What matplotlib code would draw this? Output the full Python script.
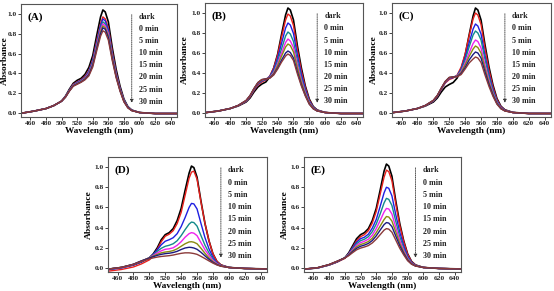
import matplotlib
matplotlib.use("Agg")
import matplotlib.pyplot as plt

plt.rcParams['font.family'] = ['Liberation Serif', 'DejaVu Serif']
plt.rcParams['font.weight'] = 'bold'

wavelength = [450, 465, 480, 490, 500, 505, 510, 515, 520, 525, 530, 535, 540, 545,
              550, 553, 556, 560, 565, 570, 575, 580, 585, 590, 600, 620, 650]

series_labels = ["dark", "0 min", "5 min", "10 min", "15 min", "20 min", "25 min", "30 min"]
colors = ["#000000", "#e8201c", "#1f1fe0", "#138a8a", "#ee22ee", "#8a8a10", "#1a1a80", "#8b3a3a"]

panel_A = [
    [0.00,0.02,0.045,0.075,0.12,0.17,0.24,0.30,0.33,0.35,0.39,0.46,0.58,0.78,0.97,1.04,1.02,0.92,0.66,0.44,0.27,0.14,0.065,0.03,0.005,-0.005,-0.005],
    [0.00,0.02,0.045,0.075,0.12,0.165,0.23,0.29,0.315,0.335,0.37,0.43,0.54,0.73,0.90,0.97,0.95,0.86,0.62,0.41,0.25,0.13,0.06,0.028,0.005,-0.005,-0.005],
    [0.00,0.02,0.045,0.075,0.12,0.165,0.23,0.285,0.31,0.33,0.36,0.42,0.53,0.71,0.885,0.95,0.93,0.84,0.60,0.40,0.245,0.13,0.06,0.028,0.005,-0.005,-0.005],
    [0.00,0.02,0.045,0.075,0.12,0.163,0.228,0.283,0.305,0.325,0.355,0.41,0.515,0.69,0.86,0.92,0.90,0.815,0.585,0.39,0.24,0.125,0.058,0.027,0.005,-0.005,-0.005],
    [0.00,0.02,0.045,0.075,0.12,0.162,0.226,0.28,0.30,0.32,0.35,0.40,0.50,0.675,0.84,0.90,0.88,0.80,0.57,0.38,0.235,0.12,0.056,0.026,0.005,-0.005,-0.005],
    [0.00,0.02,0.045,0.075,0.12,0.161,0.224,0.277,0.297,0.317,0.345,0.39,0.49,0.66,0.82,0.88,0.86,0.78,0.56,0.372,0.23,0.118,0.055,0.025,0.005,-0.005,-0.005],
    [0.00,0.02,0.045,0.075,0.12,0.16,0.222,0.274,0.294,0.313,0.34,0.385,0.48,0.645,0.80,0.86,0.845,0.76,0.545,0.365,0.225,0.115,0.054,0.025,0.005,-0.005,-0.005],
    [0.00,0.02,0.045,0.075,0.12,0.16,0.22,0.27,0.29,0.31,0.335,0.375,0.465,0.625,0.775,0.83,0.815,0.735,0.53,0.355,0.22,0.112,0.052,0.024,0.005,-0.005,-0.005],
]

panel_B = [
    [0.005,0.02,0.045,0.07,0.11,0.15,0.21,0.26,0.29,0.31,0.36,0.45,0.59,0.79,0.98,1.05,1.03,0.93,0.67,0.45,0.27,0.14,0.065,0.03,0.005,-0.005,-0.005],
    [0.005,0.02,0.045,0.072,0.115,0.16,0.225,0.28,0.31,0.33,0.37,0.45,0.58,0.76,0.93,0.99,0.97,0.875,0.63,0.42,0.255,0.13,0.06,0.028,0.005,-0.005,-0.005],
    [0.005,0.02,0.045,0.073,0.118,0.165,0.232,0.29,0.32,0.335,0.365,0.435,0.55,0.70,0.85,0.90,0.88,0.795,0.575,0.385,0.235,0.12,0.056,0.026,0.005,-0.005,-0.005],
    [0.005,0.02,0.045,0.074,0.12,0.168,0.236,0.295,0.325,0.338,0.36,0.42,0.52,0.645,0.77,0.81,0.79,0.715,0.52,0.35,0.215,0.11,0.052,0.024,0.005,-0.005,-0.005],
    [0.005,0.02,0.045,0.075,0.122,0.17,0.24,0.30,0.33,0.34,0.355,0.405,0.495,0.60,0.705,0.74,0.72,0.655,0.48,0.325,0.20,0.103,0.048,0.022,0.005,-0.005,-0.005],
    [0.005,0.02,0.045,0.075,0.123,0.172,0.242,0.302,0.332,0.34,0.352,0.395,0.475,0.57,0.66,0.69,0.675,0.61,0.45,0.305,0.19,0.098,0.046,0.021,0.005,-0.005,-0.005],
    [0.005,0.02,0.045,0.076,0.125,0.174,0.244,0.304,0.334,0.34,0.35,0.385,0.45,0.53,0.60,0.62,0.605,0.55,0.41,0.28,0.175,0.09,0.043,0.02,0.005,-0.005,-0.005],
    [0.005,0.02,0.045,0.076,0.126,0.175,0.245,0.305,0.335,0.34,0.348,0.38,0.44,0.51,0.57,0.59,0.575,0.525,0.39,0.27,0.17,0.088,0.042,0.02,0.005,-0.005,-0.005],
]

panel_C = [
    [0.005,0.02,0.045,0.07,0.11,0.15,0.21,0.26,0.285,0.305,0.35,0.44,0.58,0.78,0.97,1.05,1.03,0.93,0.68,0.46,0.28,0.145,0.068,0.032,0.006,-0.005,-0.005],
    [0.005,0.02,0.045,0.072,0.118,0.165,0.235,0.30,0.335,0.35,0.38,0.46,0.59,0.77,0.94,1.00,0.98,0.885,0.64,0.43,0.26,0.135,0.063,0.03,0.005,-0.005,-0.005],
    [0.005,0.02,0.045,0.073,0.12,0.168,0.24,0.305,0.345,0.355,0.375,0.44,0.555,0.70,0.84,0.89,0.87,0.79,0.575,0.385,0.235,0.12,0.057,0.027,0.005,-0.005,-0.005],
    [0.005,0.02,0.045,0.074,0.122,0.17,0.243,0.31,0.35,0.36,0.372,0.43,0.53,0.66,0.78,0.82,0.80,0.73,0.535,0.36,0.22,0.113,0.053,0.025,0.005,-0.005,-0.005],
    [0.005,0.02,0.045,0.075,0.124,0.172,0.245,0.312,0.352,0.36,0.37,0.415,0.50,0.60,0.695,0.73,0.715,0.65,0.48,0.325,0.20,0.103,0.049,0.023,0.005,-0.005,-0.005],
    [0.005,0.02,0.045,0.075,0.125,0.174,0.247,0.314,0.354,0.36,0.368,0.405,0.48,0.565,0.64,0.67,0.655,0.60,0.445,0.305,0.19,0.098,0.046,0.022,0.005,-0.005,-0.005],
    [0.005,0.02,0.045,0.076,0.126,0.175,0.248,0.315,0.355,0.36,0.365,0.395,0.455,0.53,0.585,0.61,0.60,0.55,0.41,0.285,0.178,0.093,0.044,0.021,0.005,-0.005,-0.005],
    [0.005,0.02,0.045,0.076,0.127,0.176,0.249,0.316,0.356,0.36,0.362,0.385,0.44,0.50,0.54,0.56,0.55,0.505,0.38,0.265,0.167,0.088,0.042,0.02,0.005,-0.005,-0.005],
]

panel_D = [
    [-0.01,0.005,0.03,0.06,0.10,0.14,0.20,0.28,0.33,0.35,0.39,0.47,0.59,0.77,0.94,1.01,0.995,0.90,0.66,0.44,0.27,0.14,0.065,0.03,0.005,-0.005,-0.01],
    [-0.03,-0.015,0.01,0.04,0.08,0.12,0.185,0.26,0.315,0.335,0.37,0.44,0.55,0.72,0.89,0.95,0.96,0.88,0.65,0.44,0.27,0.14,0.065,0.03,0.005,-0.005,-0.01],
    [-0.015,0.0,0.03,0.06,0.10,0.135,0.18,0.23,0.265,0.28,0.30,0.34,0.41,0.50,0.60,0.64,0.635,0.585,0.44,0.30,0.19,0.105,0.052,0.025,0.005,-0.005,-0.01],
    [-0.01,0.005,0.035,0.065,0.10,0.13,0.165,0.195,0.215,0.225,0.24,0.27,0.32,0.38,0.435,0.455,0.45,0.415,0.32,0.225,0.15,0.088,0.047,0.024,0.005,-0.005,-0.01],
    [-0.01,0.005,0.035,0.068,0.10,0.125,0.15,0.17,0.185,0.19,0.20,0.225,0.26,0.305,0.34,0.35,0.345,0.32,0.25,0.18,0.125,0.075,0.042,0.022,0.005,-0.005,-0.01],
    [-0.01,0.006,0.037,0.07,0.10,0.118,0.135,0.15,0.158,0.163,0.172,0.19,0.215,0.24,0.258,0.26,0.255,0.24,0.195,0.145,0.10,0.063,0.036,0.02,0.005,-0.005,-0.01],
    [-0.01,0.006,0.037,0.07,0.098,0.112,0.125,0.135,0.142,0.146,0.153,0.165,0.183,0.198,0.205,0.203,0.198,0.185,0.155,0.12,0.086,0.055,0.033,0.018,0.005,-0.005,-0.01],
    [-0.01,0.006,0.035,0.065,0.09,0.10,0.108,0.114,0.118,0.122,0.128,0.137,0.145,0.15,0.15,0.147,0.143,0.135,0.115,0.093,0.07,0.048,0.03,0.017,0.005,-0.005,-0.01],
]

panel_E = [
    [-0.01,0.0,0.03,0.06,0.10,0.15,0.22,0.29,0.33,0.35,0.39,0.47,0.59,0.77,0.96,1.03,1.01,0.91,0.66,0.44,0.27,0.14,0.065,0.03,0.005,-0.005,-0.01],
    [-0.01,0.0,0.03,0.058,0.095,0.14,0.205,0.27,0.31,0.33,0.37,0.445,0.56,0.73,0.90,0.97,0.955,0.865,0.63,0.42,0.26,0.135,0.062,0.029,0.005,-0.005,-0.01],
    [-0.01,0.0,0.03,0.06,0.10,0.14,0.20,0.255,0.29,0.305,0.335,0.395,0.48,0.61,0.745,0.80,0.79,0.715,0.525,0.355,0.22,0.115,0.055,0.026,0.005,-0.005,-0.01],
    [-0.01,0.0,0.031,0.062,0.10,0.138,0.19,0.24,0.27,0.285,0.31,0.36,0.435,0.535,0.645,0.69,0.68,0.62,0.46,0.31,0.195,0.103,0.05,0.024,0.005,-0.005,-0.01],
    [-0.01,0.001,0.032,0.064,0.10,0.135,0.18,0.225,0.25,0.265,0.285,0.325,0.39,0.47,0.555,0.59,0.585,0.535,0.40,0.275,0.175,0.093,0.046,0.022,0.005,-0.005,-0.01],
    [-0.01,0.002,0.033,0.065,0.10,0.13,0.17,0.21,0.232,0.245,0.262,0.295,0.35,0.415,0.48,0.51,0.505,0.465,0.355,0.245,0.158,0.085,0.043,0.021,0.005,-0.005,-0.01],
    [-0.01,0.002,0.034,0.066,0.10,0.127,0.162,0.195,0.215,0.227,0.243,0.272,0.318,0.375,0.43,0.45,0.445,0.41,0.315,0.22,0.143,0.078,0.04,0.02,0.005,-0.005,-0.01],
    [-0.01,0.002,0.034,0.066,0.098,0.122,0.152,0.18,0.197,0.208,0.222,0.248,0.285,0.33,0.375,0.39,0.385,0.355,0.275,0.195,0.13,0.072,0.037,0.019,0.005,-0.005,-0.01],
]

panel_names = ["(A)", "(B)", "(C)", "(D)", "(E)"]
x_ticks = [460, 480, 500, 520, 540, 560, 580, 600, 620, 640]
y_ticks = [0.0, 0.2, 0.4, 0.6, 0.8, 1.0]

W, H = 554, 291
fig = plt.figure(figsize=(W / 100, H / 100), dpi=100)
fig.patch.set_facecolor("white")

# axes boxes in pixels: (left, top, right, bottom)
boxes = [(21, 4, 177, 117), (205, 3, 363, 117), (392, 3, 551, 117),
         (108, 157, 267, 272), (304, 157, 461, 272)]
ylabel_x = [-0.08, -0.105, -0.088, -0.094, -0.096]
datasets = [panel_A, panel_B, panel_C, panel_D, panel_E]

for (l, t, r, b), data, name, ylx in zip(boxes, datasets, panel_names, ylabel_x):
    ax = fig.add_axes([l / W, (H - b) / H, (r - l) / W, (b - t) / H])
    for i, (row, c) in enumerate(zip(data, colors)):
        ax.plot(wavelength, row, color=c, lw=1.2 if i == 0 else 1.0)
    ax.set_xlim(448, 648)
    ax.set_ylim(-0.04, 1.1)
    ax.set_xticks(x_ticks)
    ax.set_yticks(y_ticks)
    ax.set_yticklabels([f"{v:.1f}" for v in y_ticks])
    ax.tick_params(labelsize=5.3, length=2, width=0.6, pad=1.2, colors="#222222")
    for lab in ax.get_xticklabels() + ax.get_yticklabels():
        lab.set_fontweight("bold")
    for s in ax.spines.values():
        s.set_linewidth(0.8)
        s.set_color("#555555")
    ax.set_xlabel("Wavelength (nm)", fontsize=6.7, fontweight="bold", labelpad=0.5)
    ax.set_ylabel("Absorbance", fontsize=6.8, fontweight="bold")
    ax.yaxis.set_label_coords(ylx, 0.5)
    ax.text(0.04, 0.885, name, transform=ax.transAxes, fontsize=8, fontweight="bold",
            va="center", ha="left")
    ys = [0.885 - i * 0.107 for i in range(len(series_labels))]
    for lab, y in zip(series_labels, ys):
        ax.text(0.755, y, lab, transform=ax.transAxes, fontsize=5.8, fontweight="bold",
                va="center", ha="left", color="#222222")
    ax.annotate("", xy=(0.71, 0.10), xytext=(0.71, 0.93), xycoords="axes fraction",
                arrowprops=dict(arrowstyle="-|>", linestyle=(0, (1, 1.2)), lw=0.6,
                                color="#333333", mutation_scale=5))

fig.savefig("out.png", dpi=100, facecolor="white")
